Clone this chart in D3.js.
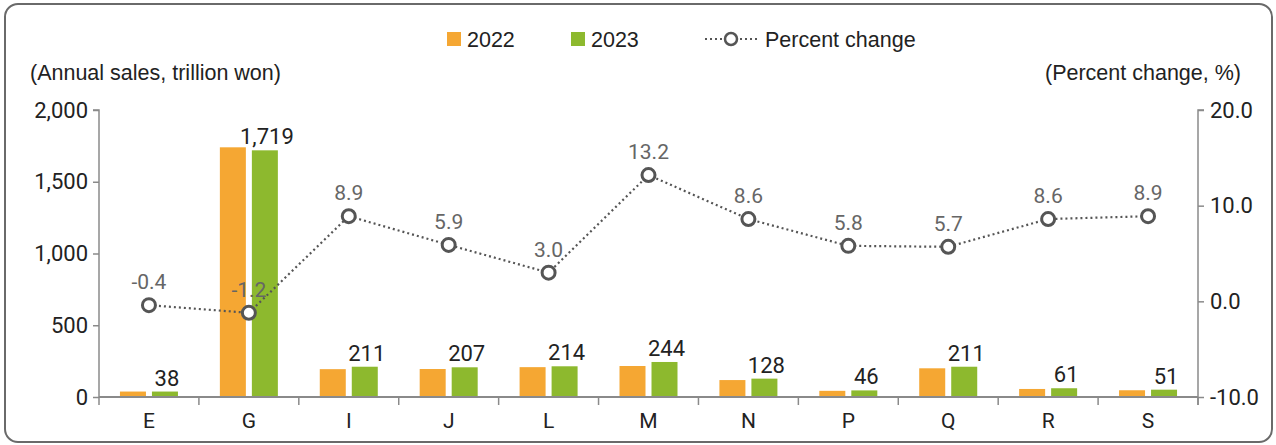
<!DOCTYPE html>
<html>
<head>
<meta charset="utf-8">
<script src="https://cdn.jsdelivr.net/npm/d3@7"></script>
<style>
  body { margin: 0; background: #fff; }
  svg { display: block; }
</style>
</head>
<body>
<div id="chart"></div>
<script>
// data
const categories = ["E", "G", "I", "J", "L", "M", "N", "P", "Q", "R", "S"];
const sales2022 = [38, 1740, 194, 195, 208, 216, 118, 43, 200, 56, 47];
const sales2023 = [38, 1719, 211, 207, 214, 244, 128, 46, 211, 61, 51];
const pctChange = [-0.4, -1.2, 8.9, 5.9, 3.0, 13.2, 8.6, 5.8, 5.7, 8.6, 8.9];
const leftTicks = [0, 500, 1000, 1500, 2000];
const rightTicks = [-10, 0, 10, 20];

const width = 1276, height = 445;
const margin = {top: 110, right: 78, bottom: 48, left: 99};
const plotW = width - margin.left - margin.right;
const plotH = height - margin.top - margin.bottom;

const orange = "#f5a733", green = "#8db92e";
const numFont = "Roboto, 'Liberation Sans', sans-serif";
const txtFont = "'Liberation Sans', Arial, sans-serif";

const svg = d3.select("#chart").append("svg")
    .attr("width", width)
    .attr("height", height);

// rounded frame
svg.append("rect")
    .attr("x", 5).attr("y", 4)
    .attr("width", 1267).attr("height", 438)
    .attr("rx", 13)
    .attr("fill", "none")
    .attr("stroke", "#6a6a6a")
    .attr("stroke-width", 2);

const g = svg.append("g")
    .attr("transform", `translate(${margin.left},${margin.top})`);

const x = d3.scaleBand().domain(categories).range([0, plotW]);
const y = d3.scaleLinear().domain([0, 2000]).range([plotH, 0]);
const y2 = d3.scaleLinear().domain([-10, 20]).range([plotH, 0]);

const barW = 26, gap = 6;

// left axis
const yAxis = g.append("g")
    .call(d3.axisLeft(y).tickValues(leftTicks).tickSize(6).tickPadding(5)
        .tickFormat(d3.format(",")));
yAxis.select(".domain").attr("stroke", "#8a8a8a").attr("stroke-width", 1.5)
    .attr("d", `M-6,0H0V${plotH}`);
yAxis.selectAll(".tick line").attr("stroke", "#8a8a8a").attr("stroke-width", 1.5);
yAxis.selectAll(".tick text")
    .attr("font-family", numFont).attr("font-size", 22).attr("fill", "#222");

// right axis
const yAxis2 = g.append("g")
    .attr("transform", `translate(${plotW},0)`)
    .call(d3.axisRight(y2).tickValues(rightTicks).tickSize(6).tickPadding(6)
        .tickFormat(d3.format(".1f")));
yAxis2.select(".domain").attr("stroke", "#8a8a8a").attr("stroke-width", 1.5)
    .attr("d", `M6,0H0V${plotH + 8}`);
yAxis2.selectAll(".tick line").attr("stroke", "#8a8a8a").attr("stroke-width", 1.5);
yAxis2.selectAll(".tick text")
    .attr("font-family", numFont).attr("font-size", 22).attr("fill", "#222")
    .text(d => d < 0 ? "-" + Math.abs(d).toFixed(1) : d.toFixed(1));

// bars
const groups = g.selectAll(".cat")
    .data(categories)
    .join("g")
    .attr("transform", d => `translate(${x(d) + x.bandwidth() / 2},0)`);

groups.append("rect")
    .attr("x", -gap / 2 - barW)
    .attr("width", barW)
    .attr("y", (d, i) => y(sales2022[i]))
    .attr("height", (d, i) => plotH - y(sales2022[i]))
    .attr("fill", orange);

groups.append("rect")
    .attr("x", gap / 2)
    .attr("width", barW)
    .attr("y", (d, i) => y(sales2023[i]))
    .attr("height", (d, i) => plotH - y(sales2023[i]))
    .attr("fill", green);

groups.append("text")
    .attr("x", gap / 2 + barW / 2 + 2)
    .attr("y", (d, i) => y(sales2023[i]) - 6)
    .attr("text-anchor", "middle")
    .attr("font-family", numFont)
    .attr("font-size", 22)
    .attr("fill", "#222")
    .text((d, i) => d3.format(",")(sales2023[i]));

// x axis (baseline + category separators)
const xAxis = g.append("g")
    .attr("transform", `translate(0,${plotH})`);
xAxis.append("line")
    .attr("x1", 0).attr("x2", plotW)
    .attr("stroke", "#8a8a8a").attr("stroke-width", 2);
xAxis.selectAll(".sep")
    .data(d3.range(categories.length + 1))
    .join("line")
    .attr("x1", i => i * x.step())
    .attr("x2", i => i * x.step())
    .attr("y1", 0).attr("y2", 8)
    .attr("stroke", "#8a8a8a").attr("stroke-width", 1.5);
xAxis.selectAll(".cat-label")
    .data(categories)
    .join("text")
    .attr("x", d => x(d) + x.bandwidth() / 2)
    .attr("y", 31)
    .attr("text-anchor", "middle")
    .attr("font-family", numFont)
    .attr("font-size", 21)
    .attr("fill", "#222")
    .text(d => d);

// percent change line
const line = d3.line()
    .x((d, i) => x(categories[i]) + x.bandwidth() / 2)
    .y(d => y2(d));

g.append("path")
    .datum(pctChange)
    .attr("d", line)
    .attr("fill", "none")
    .attr("stroke", "#555")
    .attr("stroke-width", 2.2)
    .attr("stroke-dasharray", "2,3");

g.selectAll(".pt")
    .data(pctChange)
    .join("circle")
    .attr("cx", (d, i) => x(categories[i]) + x.bandwidth() / 2)
    .attr("cy", d => y2(d))
    .attr("r", 6.5)
    .attr("fill", "#fff")
    .attr("stroke", "#555")
    .attr("stroke-width", 3);

g.selectAll(".pt-label")
    .data(pctChange)
    .join("text")
    .attr("x", (d, i) => x(categories[i]) + x.bandwidth() / 2)
    .attr("y", d => y2(d) - 16)
    .attr("text-anchor", "middle")
    .attr("font-family", numFont)
    .attr("font-size", 21)
    .attr("fill", "#666")
    .text(d => d.toFixed(1));

// axis titles
svg.append("text")
    .attr("x", 30).attr("y", 80)
    .attr("font-family", txtFont)
    .attr("font-size", 21.5).attr("fill", "#222")
    .text("(Annual sales, trillion won)");
svg.append("text")
    .attr("x", 1241).attr("y", 80)
    .attr("text-anchor", "end")
    .attr("font-family", txtFont)
    .attr("font-size", 21.5).attr("fill", "#222")
    .text("(Percent change, %)");

// legend
const legend = svg.append("g")
    .attr("font-family", txtFont)
    .attr("font-size", 21.5).attr("fill", "#222");
legend.append("rect").attr("x", 447).attr("y", 32).attr("width", 14).attr("height", 14).attr("fill", orange);
legend.append("text").attr("x", 467).attr("y", 47).text("2022");
legend.append("rect").attr("x", 571).attr("y", 32).attr("width", 14).attr("height", 14).attr("fill", green);
legend.append("text").attr("x", 591).attr("y", 47).text("2023");
legend.append("line")
    .attr("x1", 705).attr("x2", 758).attr("y1", 39).attr("y2", 39)
    .attr("stroke", "#555").attr("stroke-width", 2).attr("stroke-dasharray", "2,3");
legend.append("circle")
    .attr("cx", 731).attr("cy", 39).attr("r", 6)
    .attr("fill", "#fff").attr("stroke", "#555").attr("stroke-width", 2.5);
legend.append("text").attr("x", 765).attr("y", 47).text("Percent change");
</script>
</body>
</html>
